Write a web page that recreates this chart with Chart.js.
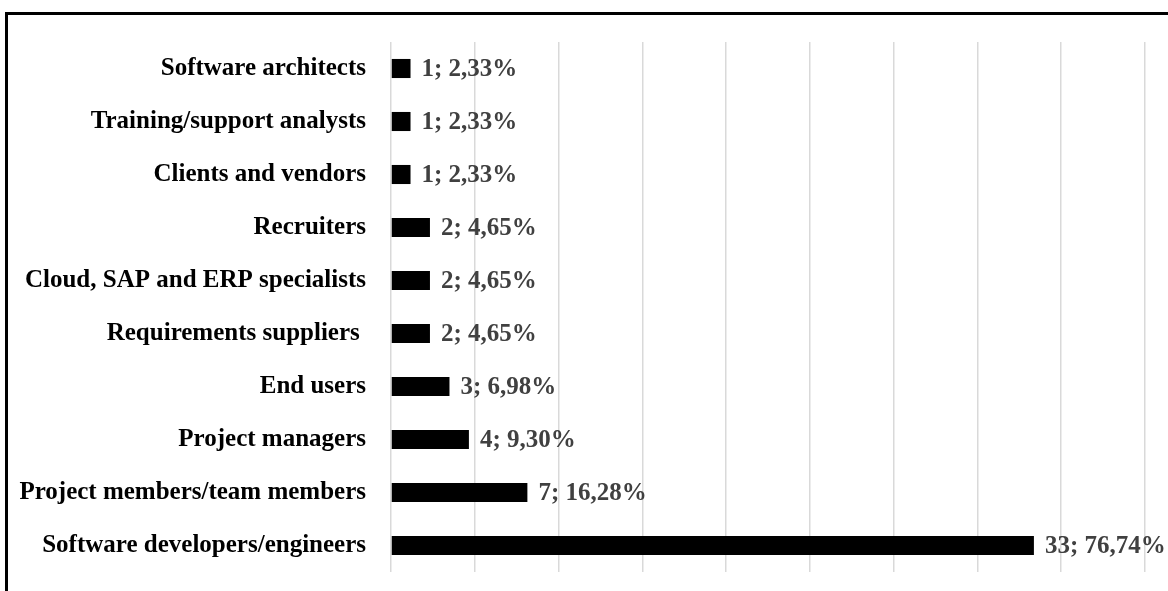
<!DOCTYPE html>
<html>
<head>
<meta charset="utf-8">
<script src="https://cdn.jsdelivr.net/npm/chart.js@4"></script>
<style>
  html, body { margin: 0; padding: 0; background: #fff; overflow: hidden; }
  #frame { position: absolute; left: 5px; top: 12px; width: 1200px; height: 640px; border: 3px solid #000; }
  #wrap { position: absolute; left: 0; top: 0; width: 1168px; height: 591px; }
</style>
</head>
<body>
<div id="frame"></div>
<div id="wrap"><canvas id="chart"></canvas></div>
<script>
// categories top to bottom
const roles = [
    "Software architects",
    "Training/support analysts",
    "Clients and vendors",
    "Recruiters",
    "Cloud, SAP and ERP specialists",
    "Requirements suppliers ",
    "End users",
    "Project managers",
    "Project members/team members",
    "Software developers/engineers"
];
const counts = [1, 1, 1, 2, 2, 2, 3, 4, 7, 33];
const percents = [2.33, 2.33, 2.33, 4.65, 4.65, 4.65, 6.98, 9.30, 16.28, 76.74];

const FONT = "'Liberation Serif', 'Times New Roman', serif";

// draws "count; pct%" after each bar
const barLabels = {
    id: 'barLabels',
    afterDatasetsDraw(chart) {
        const ctx = chart.ctx;
        const meta = chart.getDatasetMeta(0);
        ctx.save();
        ctx.font = "bold 25px " + FONT;
        ctx.fillStyle = "#404040";
        ctx.textAlign = "left";
        ctx.textBaseline = "middle";
        meta.data.forEach(function(bar, i) {
            var txt = counts[i] + "; " + percents[i].toFixed(2).replace(".", ",") + "%";
            ctx.fillText(txt, bar.x + 11, bar.y + 1);
        });
        ctx.restore();
    }
};

const chart = new Chart(document.getElementById('chart'), {
    type: 'bar',
    data: {
        labels: roles,
        datasets: [{
            data: percents,
            backgroundColor: "#000",
            borderWidth: 0,
            barPercentage: 0.36,
            categoryPercentage: 1
        }]
    },
    options: {
        indexAxis: 'y',
        responsive: true,
        maintainAspectRatio: false,
        animation: false,
        layout: { padding: { top: 42, bottom: 19, right: 23, left: 0 } },
        plugins: {
            legend: { display: false },
            tooltip: { enabled: false }
        },
        scales: {
            x: {
                min: 0,
                max: 90,
                ticks: { display: false, stepSize: 10 },
                grid: { color: "#d9d9d9", lineWidth: 1.5, drawTicks: false },
                border: { display: false },
                afterFit(scale) { scale.height = 0; scale.paddingLeft = 0; scale.paddingRight = 0; }
            },
            y: {
                ticks: {
                    color: "#000",
                    padding: 25,
                    font: { family: FONT, size: 25, weight: 'bold' }
                },
                grid: { display: false, drawTicks: false },
                border: { display: false },
                afterFit(scale) {
                    scale.width = 391;
                    // labels are small enough, don't let them push the plot area in
                    scale.paddingTop = 0;
                    scale.paddingBottom = 0;
                }
            }
        }
    },
    plugins: [barLabels]
});
</script>
</body>
</html>
